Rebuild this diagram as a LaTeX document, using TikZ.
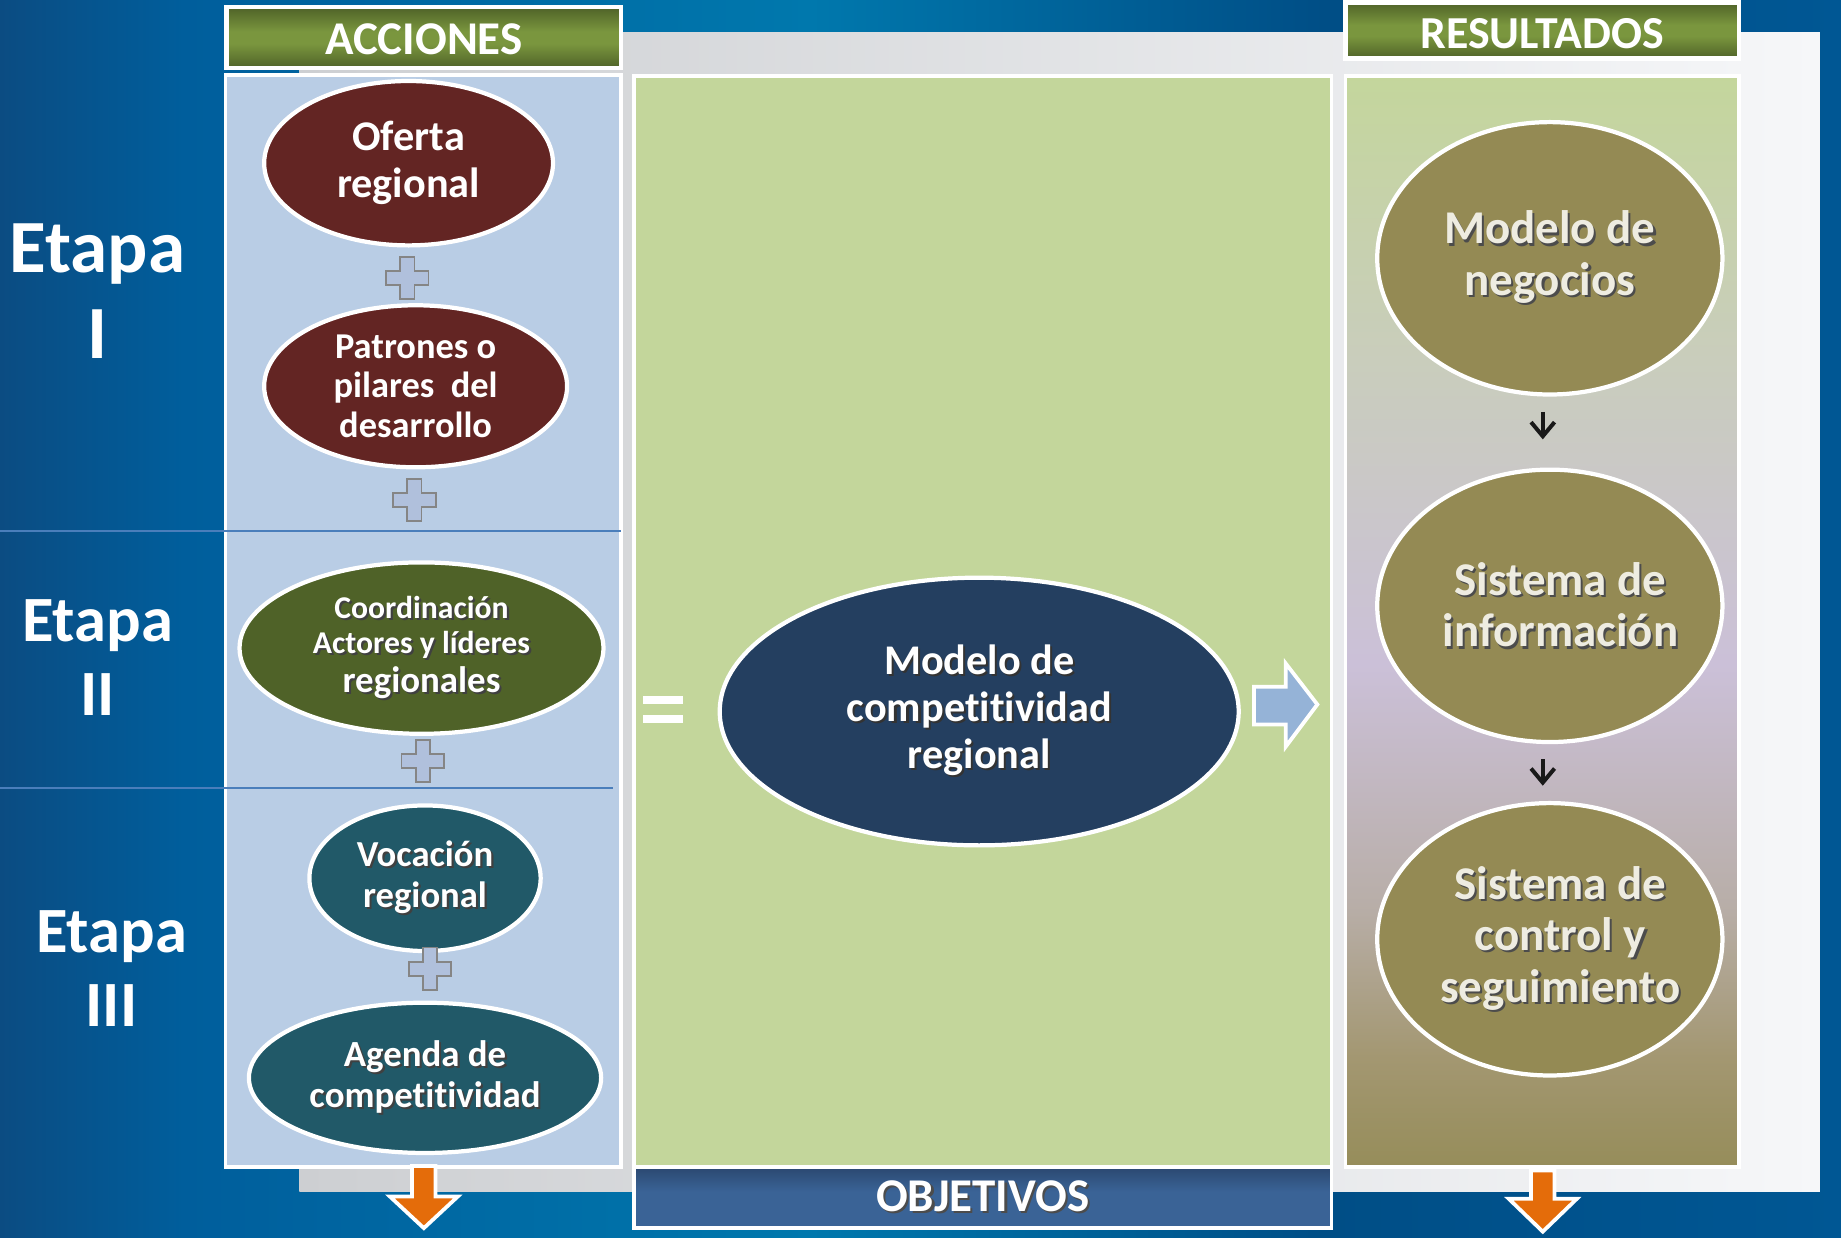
\documentclass[tikz,border=0pt]{standalone}
\usepackage{fontspec}
\setmainfont{Carlito}[RawFeature={-liga;-clig;-calt;-dlig}]
\usetikzlibrary{arrows.meta,shapes.geometric}
\definecolor{bgA}{HTML}{0B4C82}
\definecolor{bgB}{HTML}{005E9C}
\definecolor{bgC}{HTML}{0078AD}
\definecolor{bgD}{HTML}{004E86}
\definecolor{bgE}{HTML}{005794}
\definecolor{grayL}{HTML}{CDCFD2}
\definecolor{grayR}{HTML}{F6F7F9}
\definecolor{panelblue}{HTML}{B9CDE5}
\definecolor{midgreen}{HTML}{C3D69B}
\definecolor{hD}{HTML}{4F6228}
\definecolor{hL}{HTML}{7A963E}
\definecolor{objTop}{HTML}{2B4870}
\definecolor{objBot}{HTML}{3A6396}
\definecolor{lineblue}{HTML}{4A7EBB}
\definecolor{maroon}{HTML}{632523}
\definecolor{olivegreen}{HTML}{4F6228}
\definecolor{tealdark}{HTML}{215968}
\definecolor{navy}{HTML}{243F60}
\definecolor{olive}{HTML}{948A54}
\definecolor{cream}{HTML}{EEECE1}
\definecolor{orangearr}{HTML}{E46C0A}
\definecolor{lightarr}{HTML}{95B3D7}
\definecolor{plusfill}{HTML}{B0C0DC}
\definecolor{plusline}{HTML}{858585}
\definecolor{rpA}{HTML}{968D5A}
\definecolor{rpB}{HTML}{A39771}
\definecolor{rpC}{HTML}{B8AEA8}
\definecolor{rpD}{HTML}{CBC0D8}
\definecolor{rpE}{HTML}{C9CDBC}
\definecolor{rpF}{HTML}{C4D69C}
\colorlet{shadowc}{black!60}
\pgfdeclarehorizontalshading{bgsh}{100bp}{color(0bp)=(bgA); color(25bp)=(bgA); color(30bp)=(bgB); color(47bp)=(bgC); color(61bp)=(bgD); color(75bp)=(bgE); color(100bp)=(bgE)}
\pgfdeclarehorizontalshading{grsh}{100bp}{color(0bp)=(grayL); color(25bp)=(grayL); color(75bp)=(grayR); color(100bp)=(grayR)}
\pgfdeclareverticalshading{hdrsh}{100bp}{color(0bp)=(hD); color(25bp)=(hD); color(45bp)=(hL); color(55bp)=(hL); color(75bp)=(hD); color(100bp)=(hD)}
\pgfdeclareverticalshading{objsh}{100bp}{color(0bp)=(objBot); color(25bp)=(objBot); color(55bp)=(objBot); color(75bp)=(objTop); color(100bp)=(objTop)}
\pgfdeclareverticalshading{respanel}{100bp}{color(0bp)=(rpA); color(25bp)=(rpA); color(30bp)=(rpB); color(37bp)=(rpC); color(48bp)=(rpD); color(62bp)=(rpE); color(75bp)=(rpF); color(100bp)=(rpF)}
\newcommand\shd[1]{\leavevmode\rlap{\hspace{0.9pt}\raisebox{-0.9pt}{\color{shadowc}#1}}#1}
\tikzset{
  plussign/.pic={\draw[fill=plusfill, draw=plusline, line width=0.8pt]
    (-6,-18)--(6,-18)--(6,-6)--(18,-6)--(18,6)--(6,6)--(6,18)--(-6,18)--(-6,6)--(-18,6)--(-18,-6)--(-6,-6)--cycle;}
}
\begin{document}
\begin{tikzpicture}[x=0.5pt,y=-0.5pt,
  hdr/.style={draw=white, line width=2pt, shade, shading=hdrsh, inner sep=0pt, text=white, font=\bfseries\fontsize{20}{24}\selectfont},
  panel/.style={draw=white, line width=1.6pt, inner sep=0pt},
  ell/.style={ellipse, draw=white, line width=1.8pt, inner sep=-4pt, align=center, text=white},
  shadow/.style={execute at begin node={\colorlet{shadowc}{#1}}},
  etapa/.style={text=white, font=\bfseries\fontsize{32}{36}\selectfont, anchor=base, inner sep=0pt},
  etapasm/.style={etapa, font=\bfseries\fontsize{27.5}{32}\selectfont},
  sepline/.style={draw=lineblue, line width=0.8pt},
  blockarrow/.style={draw=white, line width=1.6pt},
  smallarr/.style={draw=black!90, line width=1.7pt, -{Straight Barb[length=6pt,width=10pt,line width=1.7pt]}}
]
\useasboundingbox (0,0) rectangle (1568,1054);
% background
\shade[shading=bgsh] (0,0) rectangle (1568,1054);
\shade[shading=grsh] (255,28) rectangle (1550,1015);

% headers
\node[hdr, minimum width=168pt, minimum height=26pt, text depth=0pt, text height=14.5pt] (acc) at (361,32) {ACCIONES};
\node[hdr, minimum width=167.5pt, minimum height=24pt, text depth=0pt, text height=15.5pt, font=\bfseries\fontsize{19.5}{24}\selectfont] (res) at (1313.5,26) {RESULTADOS};

% panels
\node[panel, fill=panelblue, minimum width=168.5pt, minimum height=465pt] (accpanel) at (360.5,529) {};
\node[panel, fill=midgreen, minimum width=297pt, minimum height=464.5pt] (midpanel) at (837,529.5) {};
\node[panel, shade, shading=respanel, minimum width=167.5pt, minimum height=464.5pt] (respanelnode) at (1313.5,529.5) {};
\node[panel, shade, shading=objsh, minimum width=297pt, minimum height=26pt, text=white, font=\bfseries\fontsize{20}{24}\selectfont] (obj) at (837,1020) {\colorlet{shadowc}{black!70}\shd{OBJETIVOS}};

% stage separators
\draw[sepline] (0,452) -- (529,452);
\draw[sepline] (0,671) -- (522,671);

% stage labels
\node[etapa] (e1) at (83,232) {Etapa};
\node[etapa] (e1n) at (83,305) {I};
\node[etapasm] (e2) at (83,546) {Etapa};
\node[etapasm] (e2n) at (83,609) {II};
\node[etapasm] (e3) at (95,811) {Etapa};
\node[etapasm] (e3n) at (95,874) {III};

% left ellipses
\node[ell, fill=maroon, minimum width=123pt, minimum height=70pt, font=\bfseries\fontsize{18}{20}\selectfont] (ofr) at (348,139) {Oferta\\regional};
\node[ell, fill=maroon, minimum width=129pt, minimum height=69pt, font=\bfseries\fontsize{15.5}{17}\selectfont] (pat) at (354,329) {Patrones o\\pilares~ del\\desarrollo};
\node[ell, fill=olivegreen, shadow=black!75, minimum width=155pt, minimum height=73pt, font=\bfseries\fontsize{13.5}{15}\selectfont] (coo) at (359,552) {\shd{Coordinación}\\\shd{Actores y líderes}\\[1.5pt]{\fontsize{15.7}{16}\selectfont\shd{regionales}}};
\node[ell, fill=tealdark, shadow=black!75, minimum width=98.5pt, minimum height=62pt, font=\bfseries\fontsize{15.6}{17.5}\selectfont] (voc) at (362,748) {\shd{Vocación}\\\shd{regional}};
\node[ell, fill=tealdark, shadow=black!75, minimum width=150pt, minimum height=64pt, font=\bfseries\fontsize{15.7}{17.5}\selectfont] (age) at (362,918) {\shd{Agenda de}\\\shd{compet\kern0pt it\kern0pt ividad}};

% plus signs
\pic at (347,237) {plussign};
\pic at (353,426) {plussign};
\pic at (360,648) {plussign};
\pic at (366,825) {plussign};

% equals sign
\fill[white] (548,593) rectangle (582,600);
\fill[white] (548,609) rectangle (582,616);

% central ellipse
\node[ell, fill=navy, shadow=black!80, minimum width=221pt, minimum height=114pt, font=\bfseries\fontsize{18}{20}\selectfont] (mod) at (834,606) {\shd{Modelo de}\\\shd{compet\kern0pt it\kern0pt ividad}\\\shd{regional}};

% blue block arrow
\draw[blockarrow, fill=lightarr] (1068,585) -- (1095,585) -- (1095,565) -- (1122,600) -- (1095,636) -- (1095,617) -- (1068,617) -- cycle;

% right ellipses
\node[ell, fill=olive, text=cream, shadow=black!70, minimum width=147pt, minimum height=116pt, font=\bfseries\fontsize{20}{22}\selectfont] (neg) at (1320,220) {\shd{Modelo de}\\\shd{negocios}};
\node[ell, fill=olive, text=cream, shadow=black!70, minimum width=147pt, minimum height=116pt, font=\bfseries\fontsize{20}{22}\selectfont] (inf) at (1320,516) {\hspace*{9pt}\shd{Sistema de}\\\hspace*{9pt}\shd{información}};
\node[ell, fill=olive, text=cream, shadow=black!70, minimum width=147pt, minimum height=116pt, font=\bfseries\fontsize{20}{22}\selectfont] (ctl) at (1320,800) {\hspace*{9pt}\shd{Sistema de}\\\hspace*{9pt}\shd{control y}\\\hspace*{9pt}\shd{seguimiento}};

\draw[smallarr] ([xshift=-3pt,yshift=-6.5pt]neg.south) -- ([xshift=-3pt,yshift=12pt]inf.north);
\draw[smallarr] ([xshift=-3pt,yshift=-6.5pt]inf.south) -- ([xshift=-3pt,yshift=6.5pt]ctl.north);

% orange arrows
\draw[blockarrow, fill=orangearr] (351,993) -- (371,993) -- (371,1019) -- (390,1019) -- (361,1046) -- (332,1019) -- (351,1019) -- cycle;
\draw[blockarrow, fill=orangearr] (1304,997) -- (1324,997) -- (1324,1021) -- (1343,1021) -- (1314,1049) -- (1285,1021) -- (1304,1021) -- cycle;
\end{tikzpicture}
\end{document}
